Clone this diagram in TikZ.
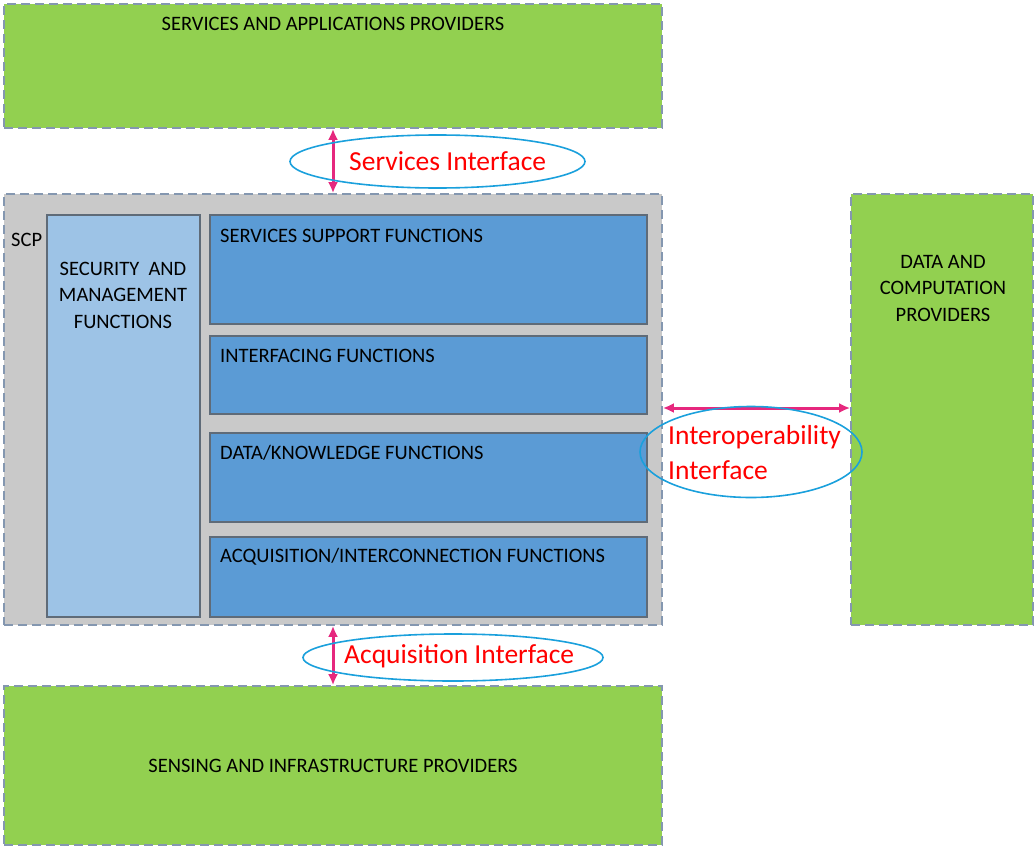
\documentclass[tikz,border=0pt]{standalone}
\usepackage{fontspec}
\setmainfont{Carlito}
\usetikzlibrary{arrows.meta,shapes.geometric}

\definecolor{provgreen}{HTML}{92D050}
\definecolor{scpgrey}{HTML}{C9C9C9}
\definecolor{dashblue}{HTML}{8497B0}
\definecolor{lightfn}{HTML}{9DC3E6}
\definecolor{darkfn}{HTML}{5B9BD5}
\definecolor{fnborder}{HTML}{5F6B78}
\definecolor{ifacepink}{HTML}{E6287E}
\definecolor{ellipseblue}{HTML}{1AA0DC}

\newcommand\blackfont{\fontsize{20.5}{26.5}\selectfont}
\newcommand\redfont{\fontsize{27.5}{35}\selectfont}

\begin{document}
\begin{tikzpicture}[x=1pt,y=-1pt,
    outerbox/.style={rectangle,draw=dashblue,dash pattern=on 9pt off 5pt,line width=1.7pt,inner sep=0pt},
    fnbox/.style={rectangle,draw=fnborder,line width=1.4pt,fill=darkfn,inner sep=0pt,minimum width=437pt},
    iface/.style={draw=ifacepink,line width=3pt,{Latex[length=11pt,width=10pt]}-{Latex[length=11pt,width=10pt]}},
    ring/.style={ellipse,draw=ellipseblue,line width=1.6pt,inner sep=0pt},
    txt/.style={inner sep=0pt,font=\blackfont},
    redtxt/.style={inner sep=0pt,font=\redfont,text=red,anchor=west,align=left}]
    \useasboundingbox (0,0) rectangle (1035,848);

    % providers and SCP
    \begin{scope}[every node/.style={outerbox,fill=provgreen}]
    \node[minimum width=658pt,minimum height=124pt](sap) at (333,66) {};
    \node[minimum width=182pt,minimum height=431pt](dcp) at (942,409.5) {};
    \node[minimum width=658pt,minimum height=159pt](sip) at (333,765.5) {};
    \end{scope}
    \node[outerbox,fill=scpgrey,minimum width=658pt,minimum height=431pt](scp) at (333,409.5) {};

    % functions
    \node[rectangle,draw=fnborder,line width=1.1pt,fill=lightfn,minimum width=153pt,minimum height=402pt](smf) at (123.5,416) {};
    \node[fnbox,minimum height=109pt](ssf) at (428.5,269.5) {};
    \node[fnbox,minimum height=78pt](inf) at (428.5,375) {};
    \node[fnbox,minimum height=89pt](dkf) at (428.5,477.5) {};
    \node[fnbox,minimum height=80pt](aif) at (428.5,577) {};

    % texts
    \node[txt](saptxt) at (333,24) {SERVICES AND APPLICATIONS PROVIDERS};
    \node[txt,align=center](dcptxt) at (943,288) {DATA AND\\COMPUTATION\\PROVIDERS};
    \node[txt](siptxt) at (333,766) {SENSING AND INFRASTRUCTURE PROVIDERS};
    \node[txt,anchor=west](scptxt) at (11,240) {SCP};
    \node[txt,align=center](smftxt) at (123,295) {SECURITY\ \ AND\\MANAGEMENT\\FUNCTIONS};
    \node[txt,anchor=west](ssftxt) at (220,236) {SERVICES SUPPORT FUNCTIONS};
    \node[txt,anchor=west](inftxt) at (220,356) {INTERFACING FUNCTIONS};
    \node[txt,anchor=west](dkftxt) at (220,453) {DATA/KNOWLEDGE FUNCTIONS};
    \node[txt,anchor=west](aiftxt) at (220,557) {ACQUISITION/INTERCONNECTION FUNCTIONS};

    % interfaces
    \coordinate (iop) at (0,408);
    \draw[iface] (sap.south) -- (scp.north);
    \draw[iface] (scp.south) -- (sip.north);
    \draw[iface] (scp.east |- iop) -- (dcp.west |- iop);

    \node[ring,minimum width=295pt,minimum height=53pt](sring) at (437.5,161.5) {};
    \node[ring,minimum width=222pt,minimum height=91pt](iring) at (751,452) {};
    \node[ring,minimum width=300pt,minimum height=47pt](aring) at (453,657.5) {};

    \node[redtxt](stxt) at (349,161) {Services Interface};
    \node[redtxt](itxt) at (668,453) {Interoperability\\Interface};
    \node[redtxt](atxt) at (344,656) {Acquisition Interface};

\end{tikzpicture}
\end{document}
